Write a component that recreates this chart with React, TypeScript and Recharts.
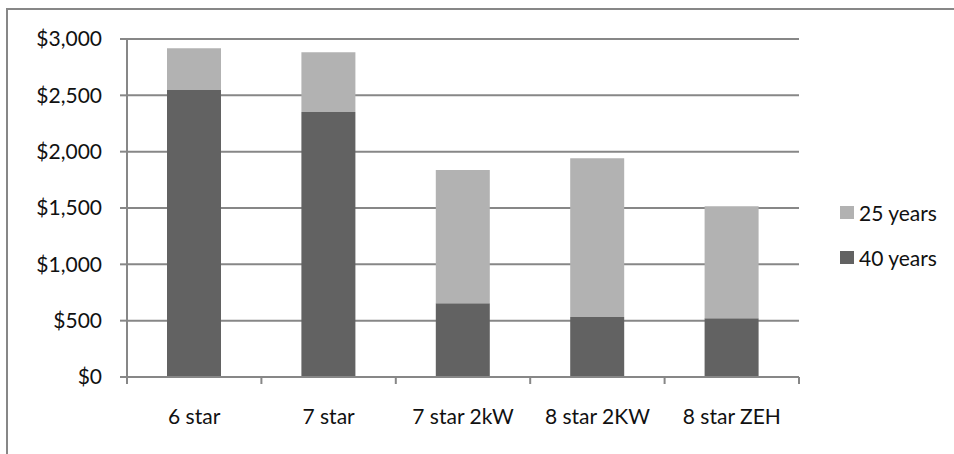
import React from "react";
import { BarChart, Bar, XAxis, YAxis, CartesianGrid } from "recharts";

// House types compared
const categories = ["6 star", "7 star", "7 star 2kW", "8 star 2KW", "8 star ZEH"];
// Lower (dark) segment: 40 years
const years40 = [2547, 2352, 654, 533, 521];
// Full column height: 25 years
const years25Total = [2917, 2882, 1837, 1941, 1515];
// Value axis ticks
const yTicks = [0, 500, 1000, 1500, 2000, 2500, 3000];

const LIGHT = "#b2b2b2";
const DARK = "#626262";
const GRID = "#878787";
const FONT = "Lato, 'Open Sans', sans-serif";

const data = categories.map((name, i) => ({
  name,
  y40: years40[i],
  y25: years25Total[i] - years40[i],
}));

const fmt = (v: number) => "$" + v.toLocaleString("en-US");

// Category tick: boundary tick marks (Excel-style) plus centred label
const CategoryTick = (props: any) => {
  const { x, y, payload, index, visibleTicksCount } = props;
  const half = payload && payload.offset ? payload.offset : 0;
  const isLast = index === visibleTicksCount - 1;
  return (
    <g>
      <line x1={x - half} x2={x - half} y1={y} y2={y + 7} stroke={GRID} strokeWidth={2} />
      {isLast && <line x1={x + half} x2={x + half} y1={y} y2={y + 7} stroke={GRID} strokeWidth={2} />}
      <text x={x} y={y + 47} textAnchor="middle" fontFamily={FONT} fontSize={21} fill="#111">
        {payload.value}
      </text>
    </g>
  );
};

const legendItems = [
  { label: "25 years", color: LIGHT },
  { label: "40 years", color: DARK },
];

const LegendBox = () => (
  <div style={{ position: "absolute", left: 840, top: 190, fontFamily: FONT, fontSize: 21, color: "#111" }}>
    {legendItems.map((it) => (
      <div key={it.label} style={{ display: "flex", alignItems: "center", height: 45 }}>
        <span style={{ display: "inline-block", width: 14, height: 13, background: it.color, marginRight: 5 }} />
        <span>{it.label}</span>
      </div>
    ))}
  </div>
);

export default function App() {
  return (
    <div style={{ position: "absolute", left: 0, top: 0, width: 954, height: 454, overflow: "hidden", background: "#fff" }}>
      <div
        style={{
          position: "absolute",
          left: 6,
          top: 8,
          width: 1000,
          height: 500,
          border: `2px solid ${GRID}`,
        }}
      />
      <div style={{ position: "absolute", left: 0, top: 0 }}>
        <BarChart
          width={954}
          height={454}
          data={data}
          margin={{ top: 39, right: 155, bottom: 0, left: 0 }}
          barSize={54}
        >
          <CartesianGrid horizontal vertical={false} stroke={GRID} strokeWidth={2} />
          <XAxis
            dataKey="name"
            height={77}
            stroke={GRID}
            strokeWidth={2}
            tickLine={false}
            tickSize={0}
            tickMargin={0}
            interval={0}
            tick={<CategoryTick />}
          />
          <YAxis
            width={127}
            domain={[0, 3000]}
            ticks={yTicks}
            tickFormatter={fmt}
            stroke={GRID}
            strokeWidth={2}
            tickSize={7}
            tickMargin={18}
            tick={{ fontFamily: FONT, fontSize: 21, fill: "#111" }}
          />
          <Bar dataKey="y40" stackId="a" fill={DARK} isAnimationActive={false} name="40 years" />
          <Bar dataKey="y25" stackId="a" fill={LIGHT} isAnimationActive={false} name="25 years" />
        </BarChart>
      </div>
      <LegendBox />
    </div>
  );
}
